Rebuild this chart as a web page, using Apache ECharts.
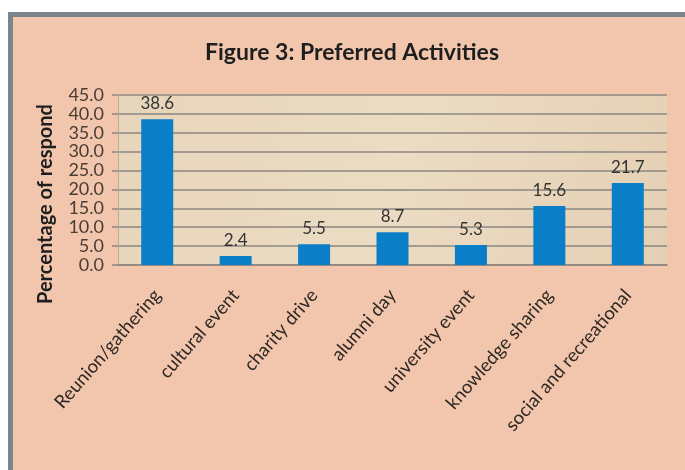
<!DOCTYPE html>
<html>
<head>
<meta charset="utf-8">
<script src="https://cdn.jsdelivr.net/npm/echarts@6/dist/echarts.min.js"></script>
<style>
  body { margin: 0; background: #fff; }
  #frame {
    position: absolute; left: 8px; top: 12px; width: 675px; height: 453px;
    background: #f2c6ad; border-top: 5px solid #7c858b; border-left: 5px solid #7c858b;
    border-right: 1px dotted #e8b89c;
  }
  #chart { position: absolute; left: 0; top: 0; width: 685px; height: 470px; }
</style>
</head>
<body>
<div id="frame"></div>
<div id="chart"></div>
<script>
// 活动类别
var categories = ['Reunion/gathering', 'cultural event', 'charity drive', 'alumni day',
                  'university event', 'knowledge sharing', 'social and recreational'];
// 百分比
var percentValues = [38.6, 2.4, 5.5, 8.7, 5.3, 15.6, 21.7];
var yTicks = [0, 5, 10, 15, 20, 25, 30, 35, 40, 45];

var myChart = echarts.init(document.getElementById('chart'));
myChart.setOption({
    backgroundColor: 'transparent',
    textStyle: { fontFamily: 'Lato' },
    title: {
        text: 'Figure 3: Preferred Activities',
        left: 347, top: 36, textAlign: 'center',
        textStyle: { fontSize: 23, fontWeight: 'bold', color: '#1e1e1e', fontFamily: 'Lato' }
    },
    grid: {
        left: 118, right: 18, top: 95, bottom: 205,
        show: true, borderWidth: 0,
        backgroundColor: {
            type: 'linear', x: 0, y: 0, x2: 1, y2: 1,
            colorStops: [
                { offset: 0, color: '#e7d5bb' },
                { offset: 0.5, color: '#ecdcc4' },
                { offset: 1, color: '#e4d0b4' }
            ]
        }
    },
    xAxis: {
        type: 'category',
        data: categories,
        axisLine: { lineStyle: { color: '#8d8780', width: 1.5 } },
        axisTick: { show: false },
        axisLabel: {
            interval: 0, rotate: 49, margin: 27,
            fontSize: 18.5, color: '#2e2824', fontFamily: 'Lato'
        }
    },
    yAxis: {
        type: 'value',
        min: yTicks[0], max: yTicks[yTicks.length - 1], interval: 5,
        name: 'Percentage of respond',
        nameLocation: 'middle', nameRotate: 90, nameGap: 62,
        nameTextStyle: { fontSize: 20, fontWeight: 'bold', color: '#1e1e1e', padding: [0, 48, 0, 0] },
        axisLine: { show: true, lineStyle: { color: '#b8ab98', width: 1 } },
        axisTick: { show: true, length: 6, lineStyle: { color: '#8d8780', width: 1.5 } },
        splitLine: { lineStyle: { color: '#8d8780', width: 1.5 } },
        axisLabel: {
            margin: 14, fontSize: 18, color: '#4a3c32',
            formatter: function (v) { return v.toFixed(1); }
        }
    },
    series: [{
        type: 'bar',
        data: percentValues,
        barWidth: 32,
        itemStyle: { color: '#0a7ec6' },
        label: {
            show: true, position: 'top', distance: 7,
            fontSize: 17, color: '#333333',
            formatter: function (p) { return p.value.toFixed(1); }
        }
    }]
});
</script>
</body>
</html>
